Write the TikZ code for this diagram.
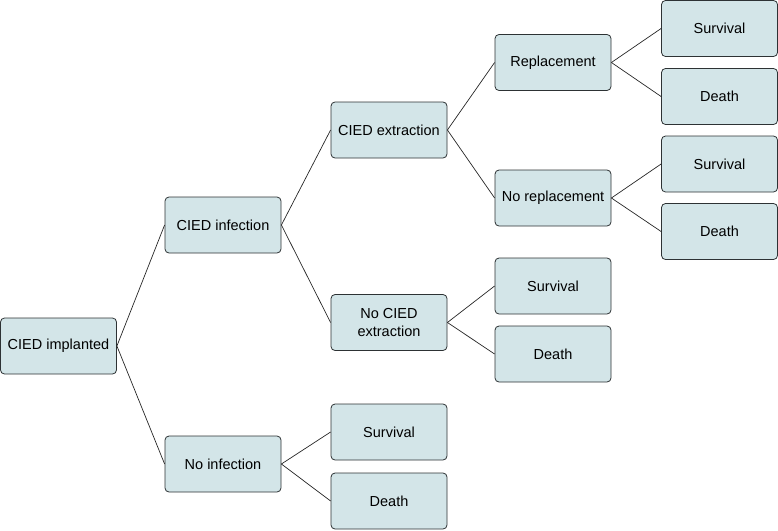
\documentclass[tikz,border=0pt]{standalone}
\usepackage{fontspec}
\setmainfont{Liberation Sans}
\definecolor{boxfill}{RGB}{211,229,232}
\definecolor{boxline}{RGB}{45,50,52}
\tikzset{
  decision/.style = {draw=boxline, fill=boxfill, line width=0.8pt, rounded corners=4pt,
                     minimum width=116pt, minimum height=56pt, inner sep=0pt,
                     align=center, font=\fontsize{14.5}{18}\selectfont},
  branch/.style = {draw=black!85, line width=0.7pt}
}
\begin{document}
\begin{tikzpicture}
[
x = 1pt,
y = -1pt
]
\useasboundingbox (0,0) rectangle (778,530);
% first level
\node [decision] (implanted) at (58.5,346) {CIED implanted};
\node [decision] (infection) at (223,225) {CIED infection};
\node [decision] (noinfection) at (223,464) {No infection};
% second level
\node [decision] (extraction) at (389,130) {CIED extraction};
\node [decision] (noextraction) at (389,322.5) {No CIED\\extraction};
\node [decision] (ni-survival) at (389,432) {Survival};
\node [decision] (ni-death) at (389,501) {Death};
% third level
\node [decision] (replacement) at (553,62.5) {Replacement};
\node [decision] (noreplacement) at (553,198) {No replacement};
\node [decision] (ne-survival) at (553,286) {Survival};
\node [decision] (ne-death) at (553,354) {Death};
% fourth level
\node [decision] (r-survival) at (719.5,28.5) {Survival};
\node [decision] (r-death) at (719.5,96.5) {Death};
\node [decision] (nr-survival) at (719.5,164) {Survival};
\node [decision] (nr-death) at (719.5,231.5) {Death};

\draw [branch] (implanted.east) -- (infection.west);
\draw [branch] (implanted.east) -- (noinfection.west);
\draw [branch] (infection.east) -- (extraction.west);
\draw [branch] (infection.east) -- (noextraction.west);
\draw [branch] (noinfection.east) -- (ni-survival.west);
\draw [branch] (noinfection.east) -- (ni-death.west);
\draw [branch] (extraction.east) -- (replacement.west);
\draw [branch] (extraction.east) -- (noreplacement.west);
\draw [branch] (noextraction.east) -- (ne-survival.west);
\draw [branch] (noextraction.east) -- (ne-death.west);
\draw [branch] (replacement.east) -- (r-survival.west);
\draw [branch] (replacement.east) -- (r-death.west);
\draw [branch] (noreplacement.east) -- (nr-survival.west);
\draw [branch] (noreplacement.east) -- (nr-death.west);
\end{tikzpicture}
\end{document}
